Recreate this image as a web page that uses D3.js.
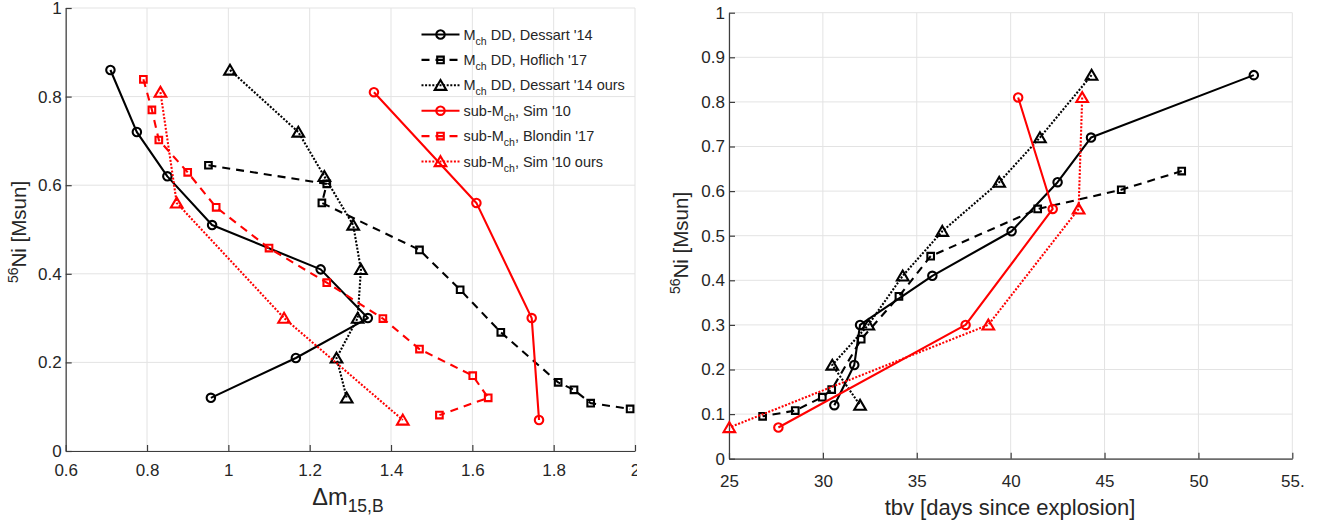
<!DOCTYPE html>
<html>
<head>
<meta charset="utf-8">
<script src="https://cdn.jsdelivr.net/npm/d3@7/dist/d3.min.js"></script>
<style>
  html, body { margin: 0; padding: 0; background: #fff; }
  svg { display: block; font-family: "Liberation Sans", Arial, Helvetica, sans-serif; }
</style>
</head>
<body>
<svg id="chart" width="1334" height="522"></svg>
<script>
// ---------------- DATA ----------------
const seriesNames = ["Mch DD, Dessart '14", "Mch DD, Hoflich '17", "Mch DD, Dessart '14 ours",
                     "sub-Mch, Sim '10", "sub-Mch, Blondin '17", "sub-Mch, Sim '10 ours"];

const ni_dessart   = [0.86, 0.72, 0.62, 0.51, 0.41, 0.30, 0.21, 0.12];
const dm_dessart   = [0.71, 0.775, 0.85, 0.96, 1.227, 1.343, 1.166, 0.957];
const tbv_dessart  = [52.95, 44.28, 42.50, 40.05, 35.83, 31.98, 31.67, 30.61];

const ni_hoflich   = [0.645, 0.603, 0.56, 0.454, 0.364, 0.268, 0.155, 0.138, 0.108, 0.095];
const dm_hoflich   = [0.951, 1.242, 1.230, 1.470, 1.570, 1.670, 1.811, 1.850, 1.891, 1.988];
const tbv_hoflich  = [49.11, 45.89, 41.44, 35.74, 34.05, 32.04, 30.47, 29.97, 28.53, 26.79];

const ni_dessartOurs  = [0.86, 0.72, 0.62, 0.51, 0.41, 0.30, 0.21, 0.12];
const dm_dessartOurs  = [1.004, 1.172, 1.236, 1.307, 1.326, 1.318, 1.266, 1.291];
const tbv_dessartOurs = [44.31, 41.56, 39.39, 36.36, 34.25, 32.42, 30.50, 31.98];

const ni_sim   = [0.81, 0.56, 0.30, 0.07];
const dm_sim   = [1.358, 1.610, 1.746, 1.764];
const tbv_sim  = [40.40, 42.24, 37.60, 27.63];

const ni_blondin = [0.839, 0.770, 0.702, 0.629, 0.550, 0.458, 0.380, 0.299, 0.230, 0.170, 0.120, 0.081];
const dm_blondin = [0.791, 0.812, 0.829, 0.900, 0.970, 1.100, 1.242, 1.380, 1.470, 1.601, 1.639, 1.519];

const ni_simOurs  = [0.81, 0.56, 0.30, 0.07];
const dm_simOurs  = [0.833, 0.873, 1.137, 1.429];
const tbv_simOurs = [43.81, 43.62, 38.81, 25.02];

const leftXTicks  = [0.6, 0.8, 1.0, 1.2, 1.4, 1.6, 1.8, 2.0];
const leftXLabels = ["0.6", "0.8", "1", "1.2", "1.4", "1.6", "1.8", "2"];
const leftYTicks  = [0, 0.2, 0.4, 0.6, 0.8, 1.0];
const leftYLabels = ["0", "0.2", "0.4", "0.6", "0.8", "1"];
const rightXTicks  = [25, 30, 35, 40, 45, 50, 55];
const rightXLabels = ["25", "30", "35", "40", "45", "50", "55."];
const rightYTicks  = [0, 0.1, 0.2, 0.3, 0.4, 0.5, 0.6, 0.7, 0.8, 0.9, 1.0];
const rightYLabels = ["0", "0.1", "0.2", "0.3", "0.4", "0.5", "0.6", "0.7", "0.8", "0.9", "1"];

// ---------------- STYLES ----------------
const styles = [
  {color: "#000000", dash: null,      marker: "circle"},
  {color: "#000000", dash: "8,6",     marker: "square"},
  {color: "#000000", dash: "2,1.6",   marker: "triangle"},
  {color: "#ff0000", dash: null,      marker: "circle"},
  {color: "#ff0000", dash: "8,6",     marker: "square"},
  {color: "#ff0000", dash: "2,1.6",   marker: "triangle"}
];

const svg = d3.select("#chart");
const TICKFONT = 17, LABELFONT = 21.5;
const axisColor = "#3d3d3d", textColor = "#262626", gridColor = "#e3e3e3";

function markerPath(type) {
  if (type === "circle") return d3.symbol(d3.symbolCircle, 56)();
  if (type === "square") return "M-3.3,-3.3H3.3V3.3H-3.3Z";
  return "M0,-5.3L5.8,4.6L-5.8,4.6Z";
}

function drawPanel(g, xs, ys, xTicks, xLabels, yTicks, yLabels, xPad) {
  const [x0, x1] = xs.range(), [y0, y1] = ys.range();
  g.append("g").selectAll("line").data(xTicks).join("line")
    .attr("x1", d => xs(d)).attr("x2", d => xs(d)).attr("y1", y0).attr("y2", y1)
    .attr("stroke", gridColor).attr("stroke-width", 1);
  g.append("g").selectAll("line").data(yTicks).join("line")
    .attr("x1", x0).attr("x2", x1).attr("y1", d => ys(d)).attr("y2", d => ys(d))
    .attr("stroke", gridColor).attr("stroke-width", 1);
  const xAxis = d3.axisBottom(xs).tickValues(xTicks).tickFormat((d, i) => xLabels[i]).tickSizeInner(-6).tickSizeOuter(0).tickPadding(xPad);
  const yAxis = d3.axisLeft(ys).tickValues(yTicks).tickFormat((d, i) => yLabels[i]).tickSizeInner(-6).tickSizeOuter(0).tickPadding(4);
  const gx = g.append("g").attr("transform", `translate(0,${y0})`).call(xAxis);
  const gy = g.append("g").attr("transform", `translate(${x0},0)`).call(yAxis);
  [gx, gy].forEach(a => {
    a.select(".domain").attr("stroke", axisColor).attr("stroke-width", 1.2);
    a.selectAll(".tick line").attr("stroke", axisColor).attr("stroke-width", 1.2);
    a.selectAll(".tick text").attr("fill", textColor).attr("font-size", TICKFONT)
      .attr("font-family", "'Liberation Sans', Arial, sans-serif");
  });
}

function drawSeries(g, xs, ys, xv, yv, st) {
  const pts = xv.map((v, i) => [xs(v), ys(yv[i])]);
  g.append("path").attr("d", d3.line()(pts)).attr("fill", "none")
    .attr("stroke", st.color).attr("stroke-width", 2.1)
    .attr("stroke-dasharray", st.dash).attr("stroke-linejoin", "round");
  g.append("g").selectAll("path").data(pts).join("path")
    .attr("transform", d => `translate(${d[0]},${d[1]})`)
    .attr("d", markerPath(st.marker)).attr("fill", "none")
    .attr("stroke", st.color).attr("stroke-width", 2.1);
}

// ---------------- LEFT PANEL ----------------
svg.append("defs").append("clipPath").attr("id", "leftclip")
  .append("rect").attr("x", 0).attr("y", 0).attr("width", 637).attr("height", 522);
const left = svg.append("g").attr("clip-path", "url(#leftclip)");
const xL = d3.scaleLinear().domain([0.6, 2.0]).range([65.7, 635]);
const yL = d3.scaleLinear().domain([0, 1]).range([451, 8]);
drawPanel(left, xL, yL, leftXTicks, leftXLabels, leftYTicks, leftYLabels, 13);

const leftData = [
  [dm_dessart, ni_dessart], [dm_hoflich, ni_hoflich], [dm_dessartOurs, ni_dessartOurs],
  [dm_sim, ni_sim], [dm_blondin, ni_blondin], [dm_simOurs, ni_simOurs]
];
leftData.forEach((d, i) => drawSeries(left, xL, yL, d[0], d[1], styles[i]));

// legend
const legY0 = 34.5, legStep = 25.4;
const leg = left.append("g");
seriesNames.forEach((name, i) => {
  const y = legY0 + i * legStep, st = styles[i];
  leg.append("line").attr("x1", 421.5).attr("x2", 459.5).attr("y1", y).attr("y2", y)
    .attr("stroke", st.color).attr("stroke-width", 2.1).attr("stroke-dasharray", st.dash);
  leg.append("path").attr("transform", `translate(440.5,${y})`).attr("d", markerPath(st.marker))
    .attr("fill", "none").attr("stroke", st.color).attr("stroke-width", 2.1);
  const t = leg.append("text").attr("x", 463.5).attr("y", y + 5).attr("font-size", 14.5).attr("fill", textColor);
  const parts = name.split("Mch");
  t.append("tspan").text(parts[0] + "M");
  t.append("tspan").attr("font-size", 10.5).attr("dy", 5).text("ch");
  t.append("tspan").attr("dy", -5).text(parts[1]);
});

// axis labels left
const xlabL = left.append("text").attr("x", 348).attr("y", 505).attr("text-anchor", "middle")
  .attr("font-size", 23.5).attr("fill", textColor);
xlabL.append("tspan").text("\u0394m");
xlabL.append("tspan").attr("font-size", 17.5).attr("dy", 7).text("15,B");

function yLabel(g, x, y) {
  const t = g.append("text").attr("transform", `translate(${x},${y}) rotate(-90)`)
    .attr("text-anchor", "middle").attr("font-size", 20.5).attr("fill", textColor);
  t.append("tspan").attr("font-size", 14).attr("dy", -8).text("56");
  t.append("tspan").attr("dy", 8).text("Ni [Msun]");
}
yLabel(left, 26, 232);

// ---------------- RIGHT PANEL ----------------
const right = svg.append("g");
const xR = d3.scaleLinear().domain([25, 55]).range([729, 1292.3]);
const yR = d3.scaleLinear().domain([0, 1]).range([458.7, 12.7]);
drawPanel(right, xR, yR, rightXTicks, rightXLabels, rightYTicks, rightYLabels, 16);

const rightData = [
  [tbv_dessart, ni_dessart, 0], [tbv_hoflich, ni_hoflich, 1], [tbv_dessartOurs, ni_dessartOurs, 2],
  [tbv_sim, ni_sim, 3], [tbv_simOurs, ni_simOurs, 5]
];
rightData.forEach(d => drawSeries(right, xR, yR, d[0], d[1], styles[d[2]]));

right.append("text").attr("x", 1010).attr("y", 515).attr("text-anchor", "middle")
  .attr("font-size", LABELFONT + 0.5).attr("fill", textColor).text("tbv [days since explosion]");
yLabel(right, 688, 243);
</script>
</body>
</html>
